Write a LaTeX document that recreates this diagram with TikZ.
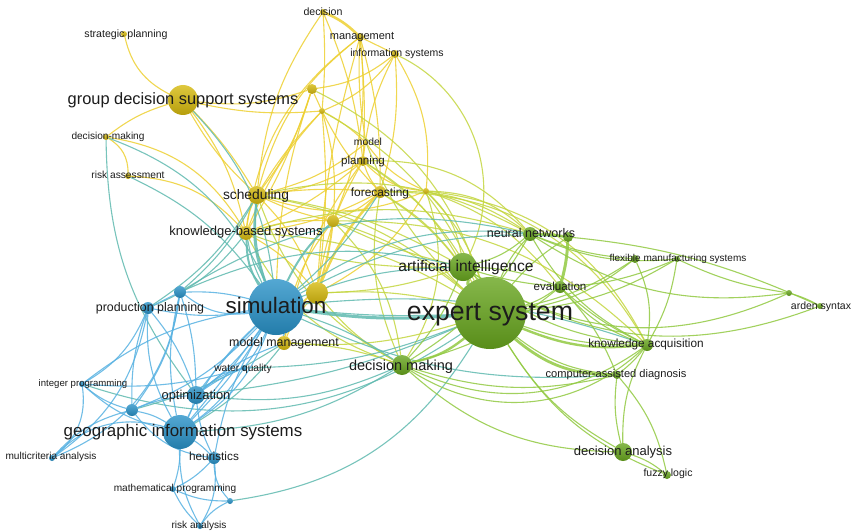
\documentclass[tikz,border=0pt]{standalone}
\usepackage{fontspec}
\setmainfont{Liberation Sans}
\pgfdeclarelayer{paper}
\pgfdeclarelayer{links}
\pgfsetlayers{paper,links,main}

\definecolor{Yn}{RGB}{214,186,14}
\definecolor{Yl}{RGB}{238,208,50}
\definecolor{Bn}{RGB}{41,146,200}
\definecolor{Bl}{RGB}{88,178,226}
\definecolor{Gn}{RGB}{104,166,30}
\definecolor{Gl}{RGB}{146,202,66}
\definecolor{Tl}{RGB}{96,186,176}
\definecolor{YG}{RGB}{196,214,64}
\definecolor{Tx}{RGB}{28,28,28}

\tikzset{
  dot/.style={circle, inner sep=0pt, outer sep=0pt, minimum size=#1},
  yn/.style={dot=#1, top color=Yn!80!white, bottom color=Yn!85!black},
  bn/.style={dot=#1, top color=Bn!80!white, bottom color=Bn!85!black},
  gn/.style={dot=#1, top color=Gn!80!white, bottom color=Gn!85!black},
  % baseline sits half an x-height below the given point
  lbl/.style={font=\fontsize{#1}{#1}\selectfont, text=Tx, inner sep=0pt,
              anchor=base, yshift={-0.28*#1}},
  lk/.style={line width=1.1pt, draw opacity=0.85},
  ly/.style={lk, draw=Yl},
  lb/.style={lk, draw=Bl},
  lg/.style={lk, draw=Gl},
  lt/.style={lk, draw=Tl},
  lyg/.style={lk, draw=YG},
  fat/.style={line width=#1},
}

\begin{document}
\begin{tikzpicture}[x=1pt, y=-1pt]
\useasboundingbox (0,0) rectangle (853,532);
\begin{pgfonlayer}{paper}
\fill[white] (0,0) rectangle (853,532);
\end{pgfonlayer}

% ---- yellow cluster
\node[yn=30] (gdss)  at (183,100) {};
\node[yn=6]  (strat) at (124,34) {};
\node[yn=6]  (dec)   at (323,12) {};
\node[yn=8]  (mgmt)  at (360,37) {};
\node[yn=8]  (infs)  at (395,54) {};
\node[yn=10] (y1)    at (312,89) {};
\node[yn=6]  (y2)    at (322,111) {};
\node[yn=6]  (dmk)   at (106,137) {};
\node[yn=6]  (risa)  at (128,176) {};
\node[yn=4]  (model) at (366,143) {};
\node[yn=10] (plan)  at (363,161) {};
\node[yn=18] (sched) at (257,195) {};
\node[yn=12] (fore)  at (380,192) {};
\node[yn=6]  (y3)    at (426,191) {};
\node[yn=12] (y4)    at (333,221) {};
\node[yn=14] (kbs)   at (246,233) {};
\node[yn=22] (y5)    at (317,293) {};
\node[yn=14] (mm)    at (284,343) {};
% ---- blue cluster
\node[bn=56] (sim)   at (276,307) {};
\node[bn=12] (pp)    at (148,308) {};
\node[bn=12] (b1)    at (180,292) {};
\node[bn=6]  (wq)    at (244,368) {};
\node[bn=6]  (ip)    at (82,384) {};
\node[bn=18] (opt)   at (196,395) {};
\node[bn=12] (b2)    at (132,410) {};
\node[bn=34] (gis)   at (180,432) {};
\node[bn=6]  (mca)   at (52,458) {};
\node[bn=12] (heur)  at (214,458) {};
\node[bn=6]  (mp)    at (173,489) {};
\node[bn=6]  (b3)    at (230,501) {};
\node[bn=6]  (ra)    at (200,526) {};
% ---- green cluster
\node[gn=72] (es)    at (490,313) {};
\node[gn=28] (ai)    at (463,267) {};
\node[gn=14] (nn)    at (530,234) {};
\node[gn=10] (g1)    at (568,237) {};
\node[gn=12] (ev)    at (560,287) {};
\node[gn=6]  (fms)   at (677,259) {};
\node[gn=8]  (g2)    at (635,259) {};
\node[gn=12] (ka)    at (647,345) {};
\node[gn=8]  (cad)   at (617,375) {};
\node[gn=20] (dm)    at (402,365) {};
\node[gn=18] (da)    at (623,452) {};
\node[gn=8]  (fl)    at (667,475) {};
\node[gn=6]  (ard)   at (820,306) {};
\node[gn=6]  (g3)    at (789,293) {};

% ---- links
\begin{pgfonlayer}{links}
% within the yellow cluster
\foreach \a/\b/\k in {gdss/strat/25, gdss/dmk/-10, gdss/y1/-12, gdss/y2/-8,
  gdss/sched/6, gdss/sched/-8, gdss/kbs/12, dec/y2/4, dec/plan/8, mgmt/infs/0,
  mgmt/fore/8, mgmt/y4/14, mgmt/plan/4, y1/infs/-15, y2/infs/-15, infs/fore/10,
  y1/y2/0, y1/sched/10, y1/kbs/6, y2/sched/-6, y2/model/8, y2/fore/-8, y2/y5/6,
  dmk/risa/30, dmk/kbs/25, risa/kbs/22, plan/sched/12, plan/fore/-10, plan/kbs/8,
  plan/y3/-20, model/y3/-15, fore/sched/-6, fore/y4/8, sched/kbs/-10, y4/kbs/-10,
  y4/sched/6, kbs/y5/10, y5/mm/-10, y2/y4/10, mgmt/model/-6, infs/plan/-10,
  sched/y5/12, y4/mm/-15, dec/sched/-14, mgmt/sched/-18, mgmt/kbs/-22,
  y1/sim/-8, y2/kbs/-10, model/sched/12, plan/y5/-10, plan/mm/-12, fore/kbs/10,
  y3/sched/20, y3/y5/15, infs/y3/18, mgmt/y5/-6}
  \draw[ly] (\a) to[bend left=\k] (\b);
\draw[ly, fat=2.6pt] (dec) to[bend left=10] (mgmt);
\draw[ly, fat=2.4pt] (fore) to[bend right=10] (y5);
\draw[ly, fat=2pt] (y4) to[bend left=5] (y5);
\draw[ly, fat=2pt] (y5) to[bend left=8] (sim);

% yellow to green
\foreach \a/\b/\k in {infs/ai/45, fore/es/12, fore/ai/10, plan/es/14,
  model/es/-12, y3/es/12, y3/ai/18, y3/nn/20, y3/dm/25, y4/es/10, y4/ai/-6,
  sched/es/15, sched/ai/10, sched/dm/-20, kbs/es/14, kbs/ai/-10, y5/es/8, y5/ai/-8,
  mm/es/-10, mm/dm/8, plan/nn/25, fore/nn/18, y1/es/22,
  fore/ka/30, y4/dm/18, kbs/dm/-22, y2/es/18, sched/nn/20, y3/ka/28,
  y4/ka/22, plan/ai/14, y3/ev/16, kbs/nn/16, fore/dm/-16, y5/dm/-10}
  \draw[lyg] (\a) to[bend left=\k] (\b);

% blue to yellow / green
\foreach \a/\b/\k in {gdss/sim/18, risa/sim/14, dmk/sim/22, sched/sim/-12,
  kbs/sim/-8, sim/ai/10, sim/dm/8, sim/nn/20, sim/ka/12, b1/ai/18, gis/dm/-14,
  b3/es/-25, opt/dm/-15, opt/es/-8, sim/es/-4, pp/sched/-12, ip/es/-26, mm/gis/10,
  sim/cad/-14, wq/es/-10, b2/mm/-8, dmk/opt/-18, b1/sched/-10, pp/kbs/-14,
  sim/fore/-8, sim/g1/16, b1/nn/22}
  \draw[lt] (\a) to[bend left=\k] (\b);
\draw[lt, fat=3pt] (sim) to[bend left=-6] (es);
\draw[lt, fat=2.2pt] (sched) to[bend left=-14] (sim);
\draw[lt, fat=2pt] (kbs) to[bend right=16] (sim);
\draw[lt, fat=2pt] (sim) to[bend left=10] (y4);

% within the blue cluster
\foreach \a/\b/\k in {sim/pp/10, sim/b1/-8, sim/opt/8, sim/gis/6, sim/gis/-10,
  sim/gis/18, sim/wq/6, sim/heur/-10, sim/ip/-14, sim/mm/5, pp/b1/0, pp/ip/18,
  pp/b2/-10, pp/gis/-16, pp/opt/10, pp/mca/22, b1/opt/8, b1/gis/-12, b1/b2/14,
  ip/b2/-12, ip/mca/30, ip/gis/-14, opt/gis/6, opt/b2/-8, opt/heur/-10, b2/gis/10,
  b2/mca/-16, b2/heur/-22, gis/heur/6, gis/mp/8, mca/gis/30, gis/ra/-14, gis/wq/-10,
  heur/b3/-20, heur/mp/10, heur/ra/18, mp/ra/-10, mp/b3/-12, b3/ra/-14, wq/opt/-6,
  mm/opt/-10, sim/b2/12, b1/sim/-22, opt/wq/12, ip/wq/-10, sim/opt/-4, sim/gis/2,
  b1/mca/30}
  \draw[lb] (\a) to[bend left=\k] (\b);

% within the green cluster
\foreach \a/\b/\k in {es/nn/10, es/ev/-8, es/ka/-10, es/da/-14, es/fms/-12, es/g1/8,
  es/g2/-14, ai/nn/-12, ai/ev/10, ai/g3/-28, ai/fms/-20, ai/ka/-16, ai/dm/10,
  nn/fms/-14, nn/ka/-16, nn/g3/-20, g2/ka/16, g2/es/10, fms/g3/-8, ka/dm/30,
  ka/dm/38, ka/cad/6, ka/da/-14, ka/ev/8, cad/dm/15, cad/fl/14, da/fl/10,
  dm/da/-20, g3/ard/6, ard/nn/-10, ev/ka/-14, ev/cad/10, nn/g2/-8, fms/ka/10,
  cad/da/-10, es/cad/-16, ai/ard/-26, dm/nn/-14, dm/ev/-12, es/fl/-18}
  \draw[lg] (\a) to[bend left=\k] (\b);
\draw[lg, fat=3pt] (es) to[bend left=8] (ai);
\draw[lg, fat=2.6pt] (nn) to[bend left=4] (g1);
\draw[lg, fat=3pt] (g1) to[bend left=6] (ev);
\draw[lg, fat=2.4pt] (es) to[bend right=14] (ka);
\draw[lg, fat=2.8pt] (es) to[bend right=20] (cad);
\draw[lg, fat=2.4pt] (es) to[bend left=14] (dm);
\end{pgfonlayer}

% ---- labels
\node[lbl=16.4] (gdss-t)  at (gdss)  {group decision support systems};
\node[lbl=10.6] (strat-t) at (126,35) {strategic planning};
\node[lbl=10.6] (dec-t)   at (323,13) {decision};
\node[lbl=11]   (mgmt-t)  at (362,36) {management};
\node[lbl=10.5] (infs-t)  at (397,54) {information systems};
\node[lbl=10.1] (dmk-t)   at (108,137) {decision-making};
\node[lbl=10.2] (risa-t)  at (128,176) {risk assessment};
\node[lbl=10.3] (model-t) at (368,143) {model};
\node[lbl=11.6] (plan-t)  at (363,161) {planning};
\node[lbl=13.8] (sched-t) at (256,196) {scheduling};
\node[lbl=11.9] (fore-t)  at (380,193) {forecasting};
\node[lbl=13]   (kbs-t)   at (246,232) {knowledge-based systems};
\node[lbl=12.4] (mm-t)    at (284,343) {model management};
\node[lbl=22.4] (sim-t)   at (276,307) {simulation};
\node[lbl=12.4] (pp-t)    at (150,308) {production planning};
\node[lbl=10.2] (wq-t)    at (243,369) {water quality};
\node[lbl=9.6]  (ip-t)    at (83,384) {integer programming};
\node[lbl=12.9] (opt-t)   at (196,396) {optimization};
\node[lbl=16.9] (gis-t)   at (183,432) {geographic information systems};
\node[lbl=10.1] (mca-t)   at (51,457) {multicriteria analysis};
\node[lbl=11.8] (heur-t)  at (214,457) {heuristics};
\node[lbl=10.1] (mp-t)    at (175,489) {mathematical programming};
\node[lbl=10.1] (ra-t)    at (199,526) {risk analysis};
\node[lbl=26.7] (es-t)    at (490,313) {expert system};
\node[lbl=15.6] (ai-t)    at (466,267) {artificial intelligence};
\node[lbl=12.5] (nn-t)    at (531,234) {neural networks};
\node[lbl=11.6] (ev-t)    at (560,287) {evaluation};
\node[lbl=10]   (fms-t)   at (678,259) {flexible manufacturing systems};
\node[lbl=11.8] (ka-t)    at (646,344) {knowledge acquisition};
\node[lbl=11.1] (cad-t)   at (616,374) {computer-assisted diagnosis};
\node[lbl=14.5] (dm-t)    at (401,366) {decision making};
\node[lbl=13]   (da-t)    at (623,452) {decision analysis};
\node[lbl=10.5] (fl-t)    at (668,474) {fuzzy logic};
\node[lbl=10.5] (ard-t)   at (821,307) {arden syntax};
\end{tikzpicture}
\end{document}
